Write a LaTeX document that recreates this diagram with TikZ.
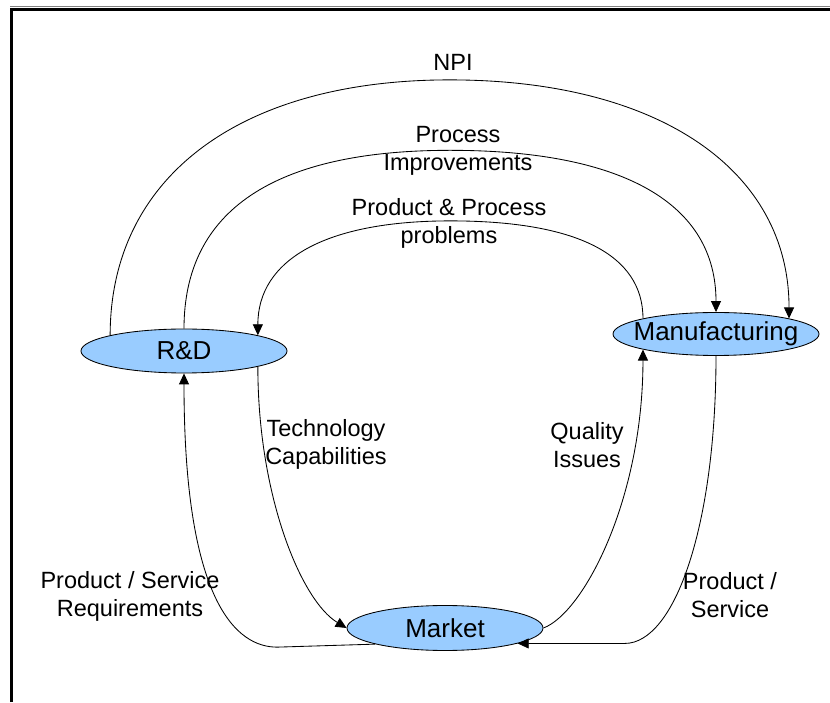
\documentclass[tikz,border=0pt]{standalone}
\usepackage{fontspec}
\setmainfont{Liberation Sans}
\usetikzlibrary{shapes.geometric,arrows.meta,calc}
\definecolor{blueish}{RGB}{153,204,255}

\begin{document}
\begin{tikzpicture}[x=1pt,y=1pt,>={Triangle[length=11pt,width=10pt]},line join=round,line width=0.85pt,
		unit/.style={ellipse,draw=black,fill=blueish,inner sep=0pt,label={[font=\fontsize{26}{30}\selectfont]center:#1}},
		lbl/.style={align=center,font=\fontsize{23.5}{28}\selectfont}]
	\useasboundingbox (0,0) rectangle (830,702);
	\draw[gray,line width=1pt] (10,695.5)--(830,695.5);
	\draw[line width=3pt,line join=miter] (11.5,0)--(11.5,692.5)--(830,692.5);
	\begin{scope}
		\node[unit=R\&D,minimum width=206pt,minimum height=44pt] (rd) at (184,351) {};
		\node[unit=Manufacturing,minimum width=206pt,minimum height=43pt] (mf) at (716,368) {};
		\node[unit=Market,minimum width=196pt,minimum height=45pt] (mk) at (445,74) {};
	\end{scope}
	\draw[->] (rd.168) .. controls +(0,158) and +(-210,0) .. ($(rd.168)!.5!(mf.12)+(0,247)$) .. controls +(210,0) and +(0,148) .. (mf.12);
	\draw[->] (rd.90) .. controls +(0,118) and +(-176,0) .. ($(rd.90)!.5!(mf.90)+(0,170)$) .. controls +(176,0) and +(0,107) .. (mf.90);
	\draw[->] (mf.168) .. controls +(0,64) and +(126,0) .. ($(mf.168)!.5!(rd.12)+(0,106)$) .. controls +(-126,0) and +(0,75) .. (rd.12);
	\draw[->] (rd.-12) .. controls +(0,-130) and +(-45,27) .. (mk.180);
	\draw[->] (mk.0) .. controls +(40,15) and +(0,-150) .. (mf.-168);
	\draw[->] (mf.270) .. controls +(0,-170) and +(50,0) .. ([xshift=107pt]mk.-12) -- (mk.-12);
	\draw[->] (mk.-167) -- ([xshift=-98pt,yshift=-3pt]mk.-167) .. controls +(-40,0) and +(0,-230) .. (rd.270);
	\node[lbl] (npi) at (453,640) {NPI};
	\node[lbl] (pi) at (458,551) {Process\\Improvements};
	\node[lbl] (ppp) at (449,479) {Product \& Process\\problems};
	\node[lbl] (tc) at (326,258) {Technology\\Capabilities};
	\node[lbl] (qi) at (587,257) {Quality\\Issues};
	\node[lbl] (ps) at (730,107) {Product /\\Service};
	\node[lbl] (psr) at (130,106) {Product / Service\\Requirements};
\end{tikzpicture}
\end{document}
